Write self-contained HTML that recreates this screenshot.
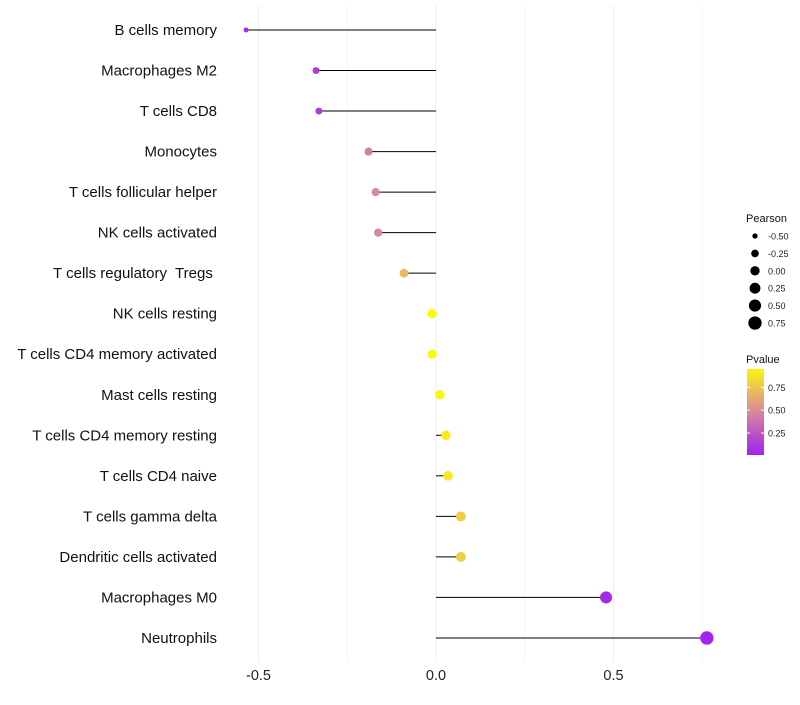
<!DOCTYPE html>
<html><head><meta charset="utf-8"><style>
body{margin:0;background:#fff;font-family:"Liberation Sans",sans-serif}
svg text{font-family:"Liberation Sans",sans-serif}
</style></head><body>
<svg id="chart" width="800" height="700"></svg>
<script>
const categories=["B cells memory","Macrophages M2","T cells CD8","Monocytes","T cells follicular helper","NK cells activated","T cells regulatory  Tregs ","NK cells resting","T cells CD4 memory activated","Mast cells resting","T cells CD4 memory resting","T cells CD4 naive","T cells gamma delta","Dendritic cells activated","Macrophages M0","Neutrophils"];
const pearson=[-0.535,-0.338,-0.33,-0.19,-0.17,-0.163,-0.09,-0.011,-0.011,0.011,0.028,0.034,0.07,0.07,0.479,0.763];
const pvalues=[0.03,0.12,0.12,0.45,0.5,0.5,0.7,0.98,0.98,0.96,0.92,0.9,0.78,0.78,0.05,0.02];
const xTicks=[-0.5,0,0.5];
const xTickLabels=["-0.5","0.0","0.5"];
const sizeLegend=[-0.5,-0.25,0,0.25,0.5,0.75];
const sizeLegendLabels=["-0.50","-0.25","0.00","0.25","0.50","0.75"];
const colorLegend=[0.25,0.5,0.75];

const NS="http://www.w3.org/2000/svg";
const svg=document.getElementById('chart');
function el(t,a,p){const e=document.createElementNS(NS,t);for(const k in a)e.setAttribute(k,a[k]);(p||svg).appendChild(e);return e;}
const X=v=>436+v*355;
const Y=i=>30+i*40.53;
const R=v=>Math.sqrt(Math.max(3,22+30*v));
function lerp(a,b,t){return a+(b-a)*t}
function col(p){
 const s=[[0,[160,32,240]],[0.5,[216,138,155]],[1,[255,255,0]]];
 let i=p<0.5?0:1;const t=(p-s[i][0])/0.5;
 const c=s[i][1].map((v,k)=>Math.round(lerp(v,s[i+1][1][k],t)));
 return `rgb(${c.join(',')})`;
}
[-0.25,0.25,0.75].forEach(v=>{const g=el('line',{x1:X(v),x2:X(v),y1:5,y2:662,stroke:'#f5f5f5','stroke-width':1});

});
xTicks.forEach((v,i)=>{const g=el('line',{x1:X(v),x2:X(v),y1:5,y2:662,stroke:'#efefef','stroke-width':1});


const t=el('text',{x:X(v),y:680,'text-anchor':'middle','font-size':14.5,fill:'#222'});t.textContent=xTickLabels[i];

});
categories.forEach((c,i)=>{
 const t=el('text',{x:217,y:Y(i)+5,'text-anchor':'end','font-size':15,fill:'#111','xml:space':'preserve'});t.style.whiteSpace='pre';t.textContent=c;
 
 
 const l=el('line',{x1:X(0),x2:X(pearson[i]),y1:Y(i),y2:Y(i),stroke:'#000','stroke-width':1});
 
 
 const d=el('circle',{cx:X(pearson[i]),cy:Y(i),r:R(pearson[i]),fill:col(pvalues[i])});
 
 
});
let t=el('text',{x:746,y:222,'font-size':11,fill:'#111'});t.textContent='Pearson';


sizeLegend.forEach((v,i)=>{const y=236+i*17.4;
 const c=el('circle',{cx:755,cy:y,r:R(v),fill:'#000'});
 
 
 const tt=el('text',{x:768,y:y+3.5,'font-size':9,fill:'#222'});tt.textContent=sizeLegendLabels[i];
 
 });
t=el('text',{x:746,y:363,'font-size':11,fill:'#111'});t.textContent='Pvalue';


const defs=el('defs',{});const gr=el('linearGradient',{id:'pg',x1:0,y1:1,x2:0,y2:0},defs);
[0,0.25,0.5,0.75,1].forEach(s=>el('stop',{offset:s,'stop-color':col(0.01+s*0.95)},gr));
const cb=el('rect',{x:747,y:369,width:17,height:86,fill:'url(#pg)'});


const CY=p=>455-(p-0.01)/0.94*86;
colorLegend.forEach(v=>{
 el('line',{x1:747,x2:750,y1:CY(v),y2:CY(v),stroke:'#fff'});el('line',{x1:761,x2:764,y1:CY(v),y2:CY(v),stroke:'#fff'});
 const tt=el('text',{x:768,y:CY(v)+3.5,'font-size':9,fill:'#222'});tt.textContent=v.toFixed(2);
 
 });
</script>
</body></html>
